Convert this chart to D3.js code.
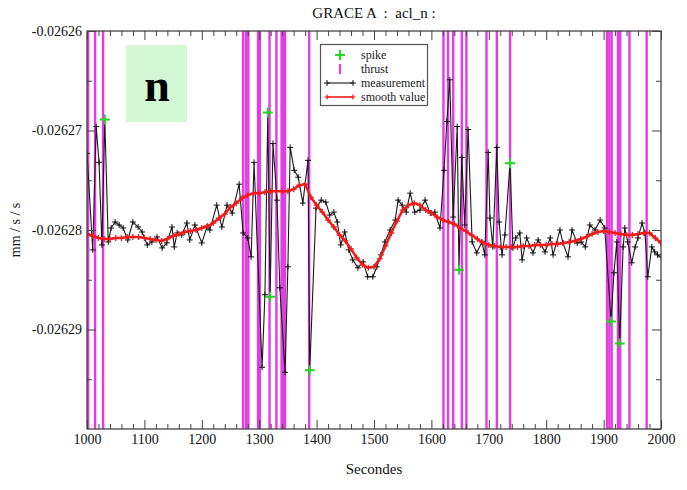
<!DOCTYPE html>
<html><head><meta charset="utf-8">
<script src="https://cdn.jsdelivr.net/npm/d3@7"></script>
<style>
body{margin:0;background:#fff}
svg{display:block}
text{font-family:"Liberation Serif","Times New Roman",serif}
</style>
</head><body>
<svg id="c" width="687" height="490"></svg>
<script>
// ---------- data ----------
const xMajor = [1000,1100,1200,1300,1400,1500,1600,1700,1800,1900,2000];
const xMinor = [1020,1040,1060,1080,1120,1140,1160,1180,1220,1240,1260,1280,1320,1340,1360,1380,1420,1440,1460,1480,1520,1540,1560,1580,1620,1640,1660,1680,1720,1740,1760,1780,1820,1840,1860,1880,1920,1940,1960,1980];
const yMajor = [-0.02626,-0.02627,-0.02628,-0.02629,-0.0263];
const yMinor = [-0.026265,-0.026275,-0.026285,-0.026295];

const measTimes = [1000,1010,1016,1021,1026,1031,1037,1042,1049,1056,1063,1071,1080,1089,1096,1105,1113,1122,1131,1139,1148,1152,1157,1165,1174,1179,1188,1200,1209,1214,1226,1235,1244,1253,1265,1272,1280,1286,1291,1305,1310,1315,1319,1324,1331,1336,1345,1350,1354,1361,1368,1376,1385,1388,1399,1408,1416,1423,1430,1436,1442,1449,1456,1463,1472,1481,1489,1498,1505,1512,1519,1528,1537,1542,1549,1556,1563,1571,1580,1589,1598,1606,1615,1622,1627,1632,1638,1645,1648,1653,1658,1664,1671,1679,1688,1693,1699,1702,1707,1714,1718,1723,1728,1737,1742,1747,1754,1758,1766,1777,1786,1798,1807,1812,1824,1829,1838,1845,1854,1861,1868,1876,1885,1894,1902,1913,1918,1923,1928,1934,1937,1942,1949,1955,1960,1967,1972,1977,1984,1989,1994,2000];
const measValues = [-0.0262723,-0.0262820,-0.0262696,-0.0262732,-0.0262815,-0.0262689,-0.0262812,-0.0262798,-0.0262792,-0.0262795,
-0.0262798,-0.0262810,-0.0262792,-0.0262797,-0.0262802,-0.0262815,-0.0262812,-0.0262807,-0.0262818,-0.0262813,
-0.0262797,-0.0262817,-0.0262803,-0.0262805,-0.0262793,-0.0262810,-0.0262795,-0.0262813,-0.0262797,-0.0262800,
-0.0262775,-0.0262797,-0.0262775,-0.0262783,-0.0262754,-0.0262803,-0.0262808,-0.0262827,-0.0262732,-0.0262938,
-0.0262865,-0.0262682,-0.0262867,-0.0262713,-0.0262770,-0.0262858,-0.0262943,-0.0262837,-0.0262717,-0.0262740,
-0.0262747,-0.0262773,-0.0262730,-0.0262941,-0.0262778,-0.0262770,-0.0262772,-0.0262785,-0.0262782,-0.0262792,
-0.0262815,-0.0262802,-0.0262820,-0.0262830,-0.0262838,-0.0262832,-0.0262847,-0.0262847,-0.0262837,-0.0262825,
-0.0262812,-0.0262800,-0.0262790,-0.0262770,-0.0262775,-0.0262782,-0.0262763,-0.0262782,-0.0262780,-0.0262770,
-0.0262783,-0.0262782,-0.0262798,-0.0262740,-0.0262691,-0.0262649,-0.0262787,-0.0262696,-0.0262840,-0.0262727,
-0.0262795,-0.0262699,-0.0262812,-0.0262823,-0.0262812,-0.0262825,-0.0262722,-0.0262788,-0.0262817,-0.0262717,
-0.0262792,-0.0262825,-0.0262805,-0.0262733,-0.0262818,-0.0262808,-0.0262803,-0.0262830,-0.0262808,-0.0262823,
-0.0262810,-0.0262822,-0.0262808,-0.0262825,-0.0262800,-0.0262813,-0.0262827,-0.0262800,-0.0262813,-0.0262812,
-0.0262817,-0.0262795,-0.0262800,-0.0262790,-0.0262798,-0.0262892,-0.0262843,-0.0262812,-0.0262914,-0.0262817,
-0.0262798,-0.0262812,-0.0262833,-0.0262817,-0.0262808,-0.0262793,-0.0262803,-0.0262847,-0.0262817,-0.0262822,
-0.0262825,-0.0262827];

const smoothTimes = d3.range(1000, 2001, 10);
const smoothValues = [-0.0262804,-0.0262806,-0.0262808,-0.0262809,-0.0262809,-0.0262808,-0.0262808,-0.0262807,-0.0262807,-0.0262807,
-0.0262808,-0.0262809,-0.0262810,-0.0262811,-0.0262809,-0.0262806,-0.0262804,-0.0262802,-0.0262801,-0.0262800,
-0.0262798,-0.0262796,-0.0262793,-0.0262788,-0.0262784,-0.0262777,-0.0262773,-0.0262768,-0.0262765,-0.0262763,
-0.0262763,-0.0262762,-0.0262761,-0.0262761,-0.0262761,-0.0262761,-0.0262759,-0.0262755,-0.0262754,-0.0262767,
-0.0262775,-0.0262782,-0.0262790,-0.0262797,-0.0262805,-0.0262811,-0.0262819,-0.0262828,-0.0262835,-0.0262838,
-0.0262837,-0.0262829,-0.0262816,-0.0262803,-0.0262791,-0.0262780,-0.0262775,-0.0262773,-0.0262775,-0.0262780,
-0.0262783,-0.0262787,-0.0262790,-0.0262792,-0.0262794,-0.0262798,-0.0262801,-0.0262805,-0.0262809,-0.0262813,
-0.0262815,-0.0262816,-0.0262817,-0.0262817,-0.0262817,-0.0262817,-0.0262816,-0.0262816,-0.0262815,-0.0262815,
-0.0262815,-0.0262814,-0.0262814,-0.0262813,-0.0262812,-0.0262811,-0.0262809,-0.0262807,-0.0262804,-0.0262802,
-0.0262801,-0.0262802,-0.0262803,-0.0262804,-0.0262805,-0.0262805,-0.0262804,-0.0262803,-0.0262803,-0.0262808,
-0.0262813];

const spikeTimes = [1031,1315,1319,1388,1648,1737,1913,1928];
const spikeValues = [-0.0262689,-0.0262682,-0.0262867,-0.0262941,-0.0262840,-0.0262733,-0.0262892,-0.0262914];

const thrustTimes = [1002,1014,1028,1272,1277,1281,1298,1301,1318,1330,1339,1342,1345,1387,1621,1629,1638,1653,1661,1696,1714,1737,1906,1910,1914,1925,1929,1945,1975];

const titleText = "GRACE A  :  acl_n :";
const xLabel = "Secondes";
const yLabel = "mm / s / s";
const legendLabels = ["spike","thrust","measurement","smooth value"];

// ---------- chart ----------
const svg = d3.select("#c");
const L = 87, R = 661, T = 31, B = 429;
const x = d3.scaleLinear().domain([1000,2000]).range([L,R]);
const y = d3.scaleLinear().domain([-0.0263,-0.02626]).range([B,T]);

svg.append("rect").attr("width",687).attr("height",490).attr("fill","#fff");
svg.append("defs").append("clipPath").attr("id","clip")
  .append("rect").attr("x",L).attr("y",T).attr("width",R-L).attr("height",B-T);

const plot = svg.append("g").attr("clip-path","url(#clip)");

// thrust lines
plot.selectAll("line.thrust").data(thrustTimes).join("line")
  .attr("class","thrust")
  .attr("x1",d=>x(d)).attr("x2",d=>x(d)).attr("y1",T).attr("y2",B)
  .attr("stroke","#e23ce2").attr("stroke-width",2.4);

// measurement
const meas = measTimes.map((t,i)=>[t,measValues[i]]);
plot.append("path").datum(meas)
  .attr("d", d3.line().x(d=>x(d[0])).y(d=>y(d[1])))
  .attr("fill","none").attr("stroke","#1a1a1a").attr("stroke-width",1.1);
plot.selectAll("path.mm").data(meas).join("path").attr("class","mm")
  .attr("transform",d=>`translate(${x(d[0])},${y(d[1])})`)
  .attr("d","M-3,0H3M0,-3V3").attr("stroke","#111").attr("stroke-width",1);

// smooth
const sm = smoothTimes.map((t,i)=>[t,smoothValues[i]]);
plot.append("path").datum(sm)
  .attr("d", d3.line().x(d=>x(d[0])).y(d=>y(d[1])))
  .attr("fill","none").attr("stroke","#ee1c1c").attr("stroke-width",2.5);
plot.selectAll("path.sm").data(sm).join("path").attr("class","sm")
  .attr("transform",d=>`translate(${x(d[0])},${y(d[1])})`)
  .attr("d","M-3,0H3M0,-3V3").attr("stroke","#ee1c1c").attr("stroke-width",1.3);

// spikes
const sp = spikeTimes.map((t,i)=>[t,spikeValues[i]]);
plot.selectAll("path.sp").data(sp).join("path").attr("class","sp")
  .attr("transform",d=>`translate(${x(d[0])},${y(d[1])})`)
  .attr("d","M-5,0H5M0,-5V5").attr("stroke","#22d822").attr("stroke-width",2);

// axes
function styleAxis(g){
  g.select(".domain").remove();
  g.selectAll("line").attr("stroke","#444");
  g.selectAll("text").attr("font-family","'Liberation Serif','Times New Roman',serif")
   .attr("font-size",14).attr("fill","#111");
}
svg.append("g").attr("transform",`translate(0,${B})`)
  .call(d3.axisBottom(x).tickValues(xMajor).tickSize(-9).tickPadding(5).tickFormat(d3.format("d"))).call(styleAxis);
svg.append("g").attr("transform",`translate(0,${B})`)
  .call(d3.axisBottom(x).tickValues(xMinor).tickSize(-5).tickFormat("")).call(styleAxis);
svg.append("g").attr("transform",`translate(0,${T})`)
  .call(d3.axisTop(x).tickValues(xMajor).tickSize(-9).tickFormat("")).call(styleAxis);
svg.append("g").attr("transform",`translate(0,${T})`)
  .call(d3.axisTop(x).tickValues(xMinor).tickSize(-5).tickFormat("")).call(styleAxis);
svg.append("g").attr("transform",`translate(${L},0)`)
  .call(d3.axisLeft(y).tickValues(yMajor.slice(0,4)).tickSize(-9).tickPadding(5).tickFormat(d=>d.toFixed(5))).call(styleAxis);
svg.append("g").attr("transform",`translate(${L},0)`)
  .call(d3.axisLeft(y).tickValues(yMinor).tickSize(-5).tickFormat("")).call(styleAxis);
svg.append("g").attr("transform",`translate(${R},0)`)
  .call(d3.axisRight(y).tickValues(yMajor).tickSize(-9).tickFormat("")).call(styleAxis);
svg.append("g").attr("transform",`translate(${R},0)`)
  .call(d3.axisRight(y).tickValues(yMinor).tickSize(-5).tickFormat("")).call(styleAxis);

// frame
svg.append("rect").attr("x",L).attr("y",T).attr("width",R-L).attr("height",B-T)
  .attr("fill","none").attr("stroke","#444").attr("stroke-width",1.3);

// titles
svg.append("text").attr("x",(L+R)/2).attr("y",18).attr("text-anchor","middle")
  .attr("font-size",15).attr("fill","#111").style("white-space","pre").text(titleText);
svg.append("text").attr("x",(L+R)/2).attr("y",474).attr("text-anchor","middle")
  .attr("font-size",15).attr("fill","#111").text(xLabel);
svg.append("text").attr("transform","translate(20,230) rotate(-90)").attr("text-anchor","middle")
  .attr("font-size",14).attr("fill","#111").text(yLabel);

// "n" box
svg.append("rect").attr("x",126).attr("y",45).attr("width",61).attr("height",77).attr("fill","#d4f7d4");
svg.append("text").attr("x",157).attr("y",101).attr("text-anchor","middle")
  .attr("font-size",46).attr("font-weight","bold").attr("fill","#000").text("n");

// legend
const lg = svg.append("g");
lg.append("rect").attr("x",320.5).attr("y",44.5).attr("width",107).attr("height",61)
  .attr("fill","#fff").attr("stroke","#555").attr("stroke-width",1.2);
const ly = [55,69,83,97];
lg.append("path").attr("transform",`translate(340,${ly[0]})`).attr("d","M-5,0H5M0,-5V5")
  .attr("stroke","#22d822").attr("stroke-width",2.2);
lg.append("line").attr("x1",340).attr("x2",340).attr("y1",ly[1]-5).attr("y2",ly[1]+5)
  .attr("stroke","#e23ce2").attr("stroke-width",2.2);
lg.append("line").attr("x1",327).attr("x2",353).attr("y1",ly[2]).attr("y2",ly[2]).attr("stroke","#1a1a1a").attr("stroke-width",1.1);
[327,353].forEach(px=>lg.append("path").attr("transform",`translate(${px},${ly[2]})`).attr("d","M-3,0H3M0,-3V3").attr("stroke","#111"));
lg.append("line").attr("x1",327).attr("x2",353).attr("y1",ly[3]).attr("y2",ly[3]).attr("stroke","#ee1c1c").attr("stroke-width",1.6);
[327,353].forEach(px=>lg.append("path").attr("transform",`translate(${px},${ly[3]})`).attr("d","M-2.5,0H2.5M0,-2.5V2.5").attr("stroke","#ee1c1c").attr("stroke-width",1.2));
legendLabels.forEach((t,i)=>lg.append("text").attr("x",361).attr("y",ly[i]+4)
  .attr("font-size",12).attr("fill","#222").text(t));
</script>
</body></html>
